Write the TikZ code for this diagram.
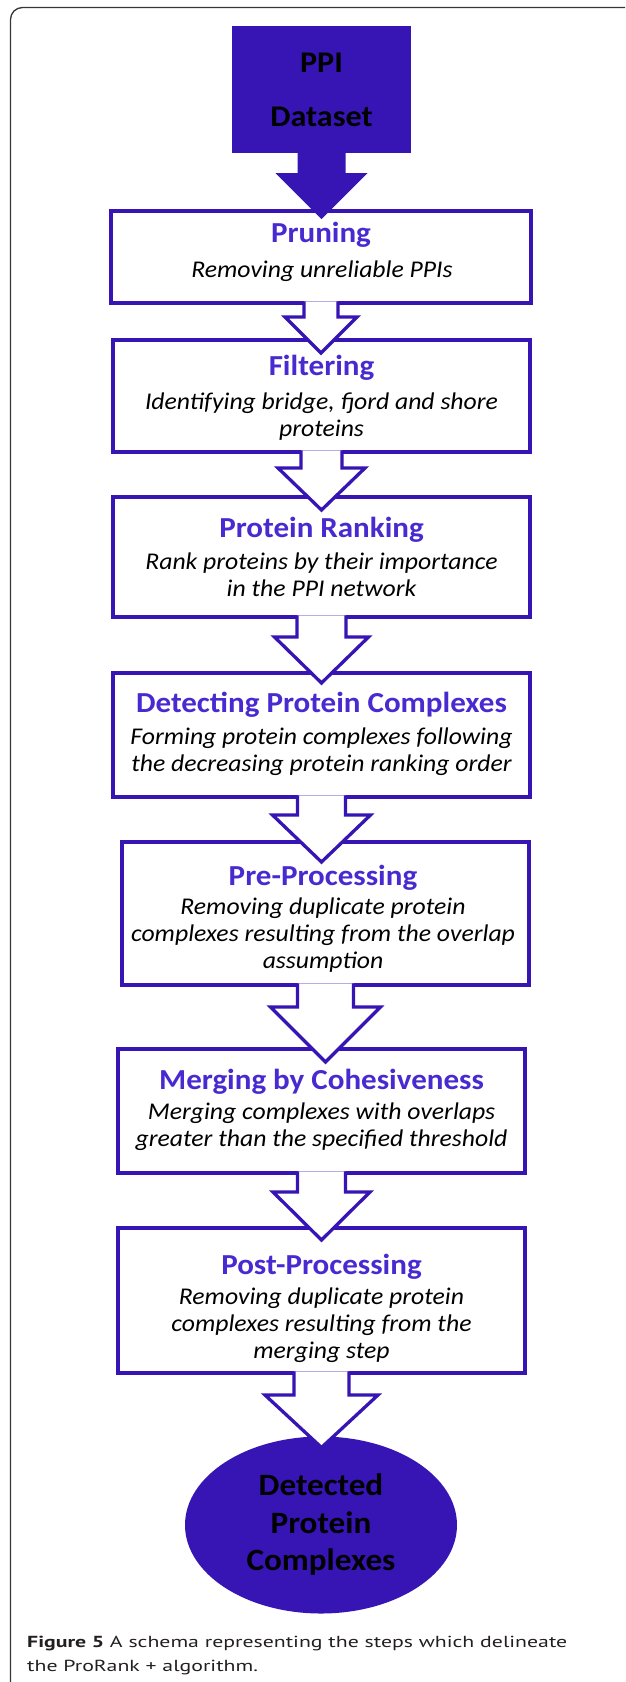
\documentclass[tikz,border=0pt]{standalone}
\usepackage{fontspec}
\usepackage{graphicx}
\setmainfont{Carlito}
\newfontfamily\diag{Carlito}[FakeStretch=1.07]
\newfontfamily\capfont{PT Sans}
\usetikzlibrary{calc,shapes.geometric}
\definecolor{pblue}{RGB}{55,20,180}
\definecolor{ptitle}{RGB}{72,42,208}
\definecolor{framegray}{RGB}{55,55,55}
\definecolor{captext}{RGB}{35,31,32}
\newcommand\blockarrow[6]{%
  \fill[white] let \p1=(#1.south), \p2=(#2.north) in
    (\x1-#3pt,\y1+1.7pt) -- (\x1-#3pt,\y1-#4pt) -- (\x1-#5pt,\y1-#4pt) -- (\x1,\y2-#6pt)
    -- (\x1+#5pt,\y1-#4pt) -- (\x1+#3pt,\y1-#4pt) -- (\x1+#3pt,\y1+1.7pt) -- cycle;
  \draw[arrowline] let \p1=(#1.south), \p2=(#2.north) in
    (\x1-#3pt,\y1+1.6pt) -- (\x1-#3pt,\y1-#4pt) -- (\x1-#5pt,\y1-#4pt) -- (\x1,\y2-#6pt)
    -- (\x1+#5pt,\y1-#4pt) -- (\x1+#3pt,\y1-#4pt) -- (\x1+#3pt,\y1+1.6pt);
}
\tikzset{
  stepbox/.style={rectangle, draw=pblue, line width=3.3pt, fill=white, inner sep=0pt, outer sep=0pt},
  steptitle/.style={inner sep=0pt, text=ptitle, font=\diag\bfseries\fontsize{29}{34}\selectfont},
  stepbody/.style={inner sep=0pt, align=center, text=black, font=\diag\itshape\fontsize{24}{27}\selectfont},
  arrowline/.style={draw=pblue, line width=3.3pt, line join=miter, miter limit=20},
  endpoint/.style={fill=pblue, inner sep=0pt, outer sep=0pt, align=center, text=black, font=\diag\bfseries\fontsize{30}{36}\selectfont},
}
\begin{document}
\begin{tikzpicture}[x=1pt,y=-1pt]
\useasboundingbox (0,0) rectangle (625,1682);
\clip (0,0) rectangle (625,1682);
\draw[framegray, line width=1.3pt, rounded corners=12pt] (10.5,7.5) rectangle (720,1760);

% nodes
\node[endpoint, rectangle, minimum width=179, minimum height=127] (ppi) at (321.5,89.5) {PPI\\[18pt]Dataset};

\node[stepbox, minimum width=420, minimum height=92] (b1) at (321,257) {};
\node[steptitle] (t1) at (321,235) {Pruning};
\node[stepbody] (d1) at (322,271) {Removing unreliable PPIs};

\node[stepbox, minimum width=417, minimum height=112] (b2) at (321.5,396) {};
\node[steptitle] (t2) at (321.5,368) {Filtering};
\node[stepbody] (d2) at (321.5,416.5) {Identifying bridge, fjord and shore\\proteins};

\node[stepbox, minimum width=417, minimum height=120] (b3) at (321.5,557) {};
\node[steptitle] (t3) at (321.5,530) {Protein Ranking};
\node[stepbody] (d3) at (321.5,575) {Rank proteins by their importance\\in the PPI network};

\node[stepbox, minimum width=417, minimum height=124] (b4) at (321.5,735) {};
\node[steptitle] (t4) at (321.5,705) {Detecting Protein Complexes};
\node[stepbody] (d4) at (321.5,751.5) {Forming protein complexes following\\the decreasing protein ranking order};

\node[stepbox, minimum width=407, minimum height=143] (b5) at (325.5,913.5) {};
\node[steptitle] (t5) at (323,878) {Pre-Processing};
\node[stepbody] (d5) at (323,935) {Removing duplicate protein\\complexes resulting from the overlap\\assumption};

\node[stepbox, minimum width=407, minimum height=124] (b6) at (321.5,1111) {};
\node[steptitle] (t6) at (321.5,1082) {Merging by Cohesiveness};
\node[stepbody] (d6) at (321.5,1126.5) {Merging complexes with overlaps\\greater than the specified threshold};

\node[stepbox, minimum width=407, minimum height=145] (b7) at (321.5,1300.5) {};
\node[steptitle] (t7) at (321.5,1267) {Post-Processing};
\node[stepbody] (d7) at (321.5,1325.5) {Removing duplicate protein\\complexes resulting from the\\merging step};

\node[endpoint, ellipse, minimum width=272, minimum height=177, font=\diag\bfseries\fontsize{31}{37.5}\selectfont] (res) at (321,1525) {Detected\\Protein\\Complexes};

% filled arrow from the dataset
\fill[pblue] let \p1=(ppi.south), \p2=(b1.north) in
  (\x1-24pt,\y1+1pt) -- (\x1-24pt,\y1-20pt) -- (\x1-46pt,\y1-20pt) -- (\x1,\y2-8pt)
  -- (\x1+46pt,\y1-20pt) -- (\x1+24pt,\y1-20pt) -- (\x1+24pt,\y1+1pt) -- cycle;

% hollow arrows: from, to, shaft half width, shaft length, head half width, tip depth
\blockarrow{b1}{b2}{17}{14}{36}{13}
\blockarrow{b2}{b3}{20.5}{16}{43.5}{13}
\blockarrow{b3}{b4}{24.5}{20}{47}{10}
\blockarrow{b4}{b5}{24}{18}{49}{20}
\blockarrow{b5}{b6}{28}{22}{55}{13}
\blockarrow{b6}{b7}{24}{19}{48.5}{12}
\blockarrow{b7}{res}{27.5}{22}{56.5}{11}

% caption
\node[anchor=base west, inner sep=0pt, text=captext, font=\capfont\fontsize{16}{24}\selectfont] (cap) at (27,1647)
  {\resizebox{540pt}{\height}{\begin{tabular}[t]{@{}l@{}}\textbf{Figure 5} A schema representing the steps which delineate\\the ProRank + algorithm.\end{tabular}}};
\end{tikzpicture}
\end{document}
